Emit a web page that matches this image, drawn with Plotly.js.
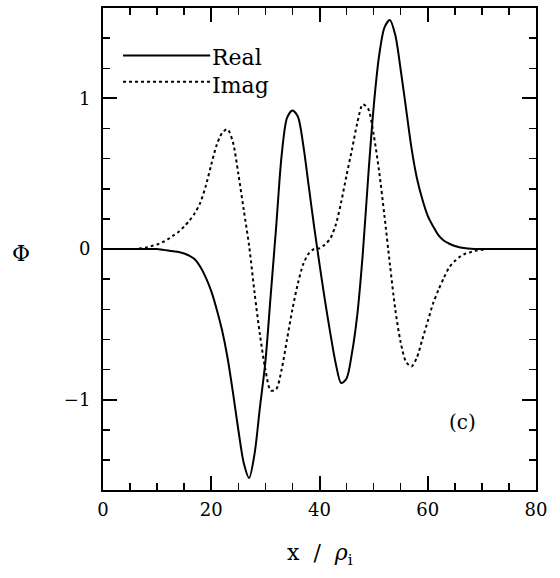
<!DOCTYPE html>
<html>
<head>
<meta charset="utf-8">
<script src="https://cdn.plot.ly/plotly-3.0.1.min.js"></script>
<style>html,body{margin:0;padding:0;background:#fff;}#chart{width:560px;height:578px;}</style>
</head>
<body>
<div id="chart"></div>
<script>
// x positions (x / rho_i)
var xValues = [];
for (var i = 0; i <= 80; i++) { xValues.push(i); }

// Real part of Phi, read at x = 0..80
var realPhi = [
  0, 0, 0, 0, 0, 0, 0, 0, 0, 0,
  0, -0.005, -0.01, -0.015, -0.02, -0.03, -0.045, -0.07, -0.12, -0.19,
  -0.28, -0.40, -0.54, -0.72, -0.95, -1.20, -1.42, -1.52, -1.36, -1.05,
  -0.75, -0.30, 0.15, 0.62, 0.87, 0.92, 0.88, 0.69, 0.42, 0.15,
  -0.10, -0.34, -0.56, -0.76, -0.89, -0.86, -0.69, -0.43, -0.03, 0.48,
  0.94, 1.28, 1.47, 1.52, 1.42, 1.19, 0.93, 0.67, 0.47, 0.33,
  0.22, 0.15, 0.09, 0.055, 0.035, 0.02, 0.01, 0.005, 0.002, 0,
  0, 0, 0, 0, 0, 0, 0, 0, 0, 0, 0
];

// Imaginary part of Phi, read at x = 0..80
var imagPhi = [
  0, 0, 0, 0, 0, 0, 0, 0.005, 0.01, 0.02,
  0.03, 0.045, 0.065, 0.09, 0.115, 0.15, 0.19, 0.24, 0.31, 0.42,
  0.56, 0.69, 0.77, 0.795, 0.71, 0.50, 0.26, 0.02, -0.29, -0.57,
  -0.80, -0.94, -0.93, -0.80, -0.60, -0.40, -0.23, -0.10, -0.03, 0,
  0.005, 0.03, 0.07, 0.16, 0.31, 0.49, 0.66, 0.84, 0.96, 0.93,
  0.76, 0.52, 0.22, -0.10, -0.40, -0.62, -0.75, -0.78, -0.72, -0.60,
  -0.48, -0.36, -0.27, -0.19, -0.12, -0.08, -0.05, -0.03, -0.02, -0.01,
  -0.005, 0, 0, 0, 0, 0, 0, 0, 0, 0, 0
];

var seriesNames = ["Real", "Imag"];
var xTickVals = [0, 20, 40, 60, 80];
var yTickVals = [-1, 0, 1];

var serif = "DejaVu Serif, Liberation Serif, serif";

var traces = [
  {x: xValues, y: realPhi, mode: "lines", name: seriesNames[0],
   line: {color: "#000", width: 2, shape: "spline", smoothing: 0.8}},
  {x: xValues, y: imagPhi, mode: "lines", name: seriesNames[1],
   line: {color: "#000", width: 2, dash: "dot", shape: "spline", smoothing: 0.8}}
];

var axisCommon = {
  showgrid: false, zeroline: false, showline: true, linecolor: "#000", linewidth: 2,
  mirror: "allticks", ticks: "inside", ticklen: 14, tickwidth: 2, tickcolor: "#000",
  tickfont: {family: serif, size: 18, color: "#000"}
};

var layout = {
  width: 560, height: 578,
  margin: {l: 103, r: 24, t: 8, b: 88},
  paper_bgcolor: "#fff", plot_bgcolor: "#fff",
  showlegend: false,
  xaxis: Object.assign({}, axisCommon, {
    range: [0, 80], tickvals: xTickVals, ticklabelstandoff: 2,
    minor: {ticks: "inside", ticklen: 7, tickwidth: 1.5, tickcolor: "#000", dtick: 5, tick0: 0}
  }),
  yaxis: Object.assign({}, axisCommon, {
    range: [-1.6, 1.6], tickvals: yTickVals, ticklabelstandoff: 7,
    minor: {ticks: "inside", ticklen: 7, tickwidth: 1.5, tickcolor: "#000", dtick: 0.2, tick0: 0}
  }),
  shapes: [
    {type: "line", xref: "x", yref: "y", x0: 3.7, x1: 19.8, y0: 1.285, y1: 1.285,
     line: {color: "#000", width: 2}},
    {type: "line", xref: "x", yref: "y", x0: 3.7, x1: 19.8, y0: 1.11, y1: 1.11,
     line: {color: "#000", width: 2, dash: "dot"}}
  ],
  annotations: [
    {xref: "x", yref: "y", x: 19.8, y: 1.27, text: seriesNames[0], showarrow: false,
     xanchor: "left", yanchor: "middle", font: {family: serif, size: 22, color: "#000"}},
    {xref: "x", yref: "y", x: 19.8, y: 1.085, text: seriesNames[1], showarrow: false,
     xanchor: "left", yanchor: "middle", font: {family: serif, size: 22, color: "#000"}},
    {xref: "x", yref: "y", x: 66.5, y: -1.15, text: "(c)", showarrow: false,
     xanchor: "center", yanchor: "middle", font: {family: serif, size: 20, color: "#000"}},
    {xref: "paper", yref: "paper", x: -0.19, y: 0.49, text: "Φ", showarrow: false,
     xanchor: "center", yanchor: "middle", font: {family: serif, size: 22, color: "#000"}},
    {xref: "paper", yref: "paper", x: 0.5, y: -0.1, text: "x  /  <i>ρ</i><sub>i</sub>", showarrow: false,
     xanchor: "center", yanchor: "top", font: {family: serif, size: 22, color: "#000"}}
  ]
};

Plotly.newPlot("chart", traces, layout, {staticPlot: true, displayModeBar: false});
</script>
</body>
</html>
